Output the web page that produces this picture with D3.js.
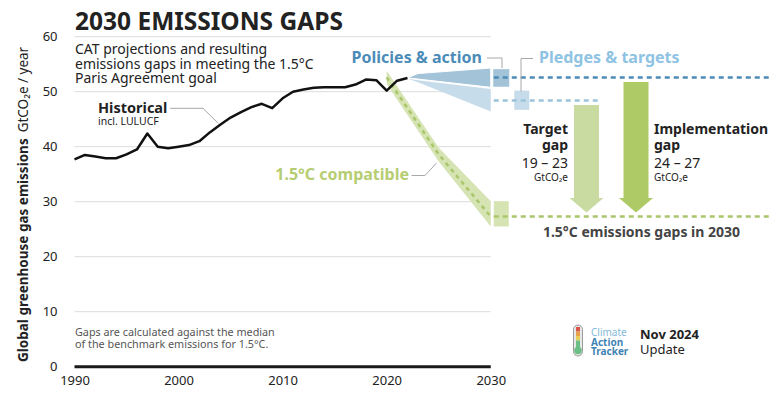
<!DOCTYPE html>
<html>
<head>
<meta charset="utf-8">
<script src="https://cdn.jsdelivr.net/npm/d3@7"></script>
<style>
  body { margin: 0; background: #fff; }
  svg { font-family: "Noto Sans", sans-serif; }
</style>
</head>
<body>
<div class="chart"></div>
<script>
// historical emissions incl. LULUCF, GtCO2e / year
const histYears = [1990, 1991, 1992, 1993, 1994, 1995, 1996, 1997, 1998, 1999,
  2000, 2001, 2002, 2003, 2004, 2005, 2006, 2007, 2008, 2009,
  2010, 2011, 2012, 2013, 2014, 2015, 2016, 2017, 2018, 2019,
  2020, 2021, 2022];
const histValues = [37.7, 38.5, 38.2, 37.9, 37.9, 38.6, 39.5, 42.4, 40.0, 39.7,
  40.0, 40.3, 41.0, 42.6, 44.0, 45.3, 46.3, 47.2, 47.8, 47.0,
  48.8, 50.0, 50.4, 50.7, 50.8, 50.8, 50.8, 51.3, 52.2, 52.1,
  50.2, 52.0, 52.5];

// CAT projections fanning out from the last historical year
const projYears = [2022, 2023, 2030];
const policiesHigh = [52.5, 53.3, 54.3];
const policiesLow = [52.5, 52.3, 50.8];
const pledgesHigh = [52.4, 52.1, 50.5];
const pledgesLow = [52.4, 51.7, 46.4];

// 1.5C compatible pathway
const paYears = [2020, 2025, 2030];
const paHigh = [53.8, 39.8, 30.1];
const paLow = [51.4, 37.3, 25.5];
const paMedian = [52.6, 38.6, 27.3];

// 2030 ranges next to the plot: [low, median, high]
const policies2030 = [50.9, 52.6, 54.1];
const pledges2030 = [46.7, 48.4, 50.2];
const pa2030 = [25.5, 27.3, 30.1];

const yTicks = [0, 10, 20, 30, 40, 50, 60];
const xTicks = [1990, 2000, 2010, 2020, 2030];
const targetGap = "19 – 23";
const implementationGap = "24 – 27";

const width = 782, height = 395;
const plotLeft = 74.5, plotRight = 490.75, plotTop = 36.7, plotBottom = 366.7;

const c = {
  text: "#222",
  grid: "#dcdcdc",
  policy: "#4b8bb8",
  policyBand: "#a3c3d9",
  pledge: "#8ec3e3",
  pledgeBand: "#c7dcea",
  pledgeDash: "#9cc3dc",
  pa: "#b6cd72",
  paBand: "#d6e4b3",
  paDash: "#a9c66a",
  targetArrow: "#c9dba0",
  implArrow: "#aeca67",
  leader: "#a8a8a8"
};

const xScale = d3.scaleLinear().domain([1990, 2030]).range([plotLeft, plotRight]);
const yScale = d3.scaleLinear().domain([0, 60]).range([plotBottom, plotTop]);

const svg = d3.select(".chart").append("svg")
  .attr("width", width).attr("height", height);

// gridlines
svg.append("g").selectAll("line")
  .data(yTicks.filter(d => d > 0))
  .enter().append("line")
  .attr("x1", plotLeft).attr("x2", plotRight)
  .attr("y1", d => yScale(d)).attr("y2", d => yScale(d))
  .style("stroke", c.grid).style("stroke-width", 1);

// y axis labels
const yAxis = d3.axisLeft(yScale).tickValues(yTicks).tickSize(0).tickPadding(17);
const gy = svg.append("g").attr("transform", `translate(${plotLeft},0)`).call(yAxis);
gy.select(".domain").remove();
gy.selectAll("text").style("font-size", "13px").style("fill", c.text)
  .style("font-family", "Noto Sans");

// x axis labels
const xAxis = d3.axisBottom(xScale).tickValues(xTicks).tickFormat(d3.format("d"))
  .tickSize(0).tickPadding(9);
const gx = svg.append("g").attr("transform", `translate(0,${plotBottom})`).call(xAxis);
gx.select(".domain").remove();
gx.selectAll("text").style("font-size", "13px").style("fill", c.text)
  .style("font-family", "Noto Sans");

// zero line
svg.append("line")
  .attr("x1", plotLeft).attr("x2", plotRight)
  .attr("y1", yScale(0)).attr("y2", yScale(0))
  .style("stroke", "#1a1a1a").style("stroke-width", 3);

// title and subtitle
svg.append("text").attr("x", 75).attr("y", 30)
  .style("font-size", "24.5px").style("font-weight", "bold").style("fill", c.text)
  .text("2030 EMISSIONS GAPS");
const sub = svg.append("text").attr("x", 75).attr("y", 54)
  .style("font-size", "14px").style("fill", c.text);
["CAT projections and resulting", "emissions gaps in meeting the 1.5°C", "Paris Agreement goal"]
  .forEach((t, i) => sub.append("tspan").attr("x", 75).attr("y", 54 + i * 14.7).text(t));

// y axis title
const yt = svg.append("text")
  .attr("transform", "translate(28,362) rotate(-90)")
  .style("font-size", "13.5px").style("fill", c.text);
yt.append("tspan").style("font-weight", "bold").text("Global greenhouse gas emissions");
yt.append("tspan").attr("dx", 6).text("GtCO₂e / year");

// 1.5C compatible band
const paData = paYears.map((y, i) => ({ year: y, lo: paLow[i], hi: paHigh[i], mid: paMedian[i] }));
svg.append("path").datum(paData)
  .attr("d", d3.area().x(d => xScale(d.year)).y0(d => yScale(d.lo)).y1(d => yScale(d.hi)))
  .style("fill", c.paBand);
svg.append("path").datum(paData)
  .attr("d", d3.line().x(d => xScale(d.year)).y(d => yScale(d.mid)))
  .style("fill", "none").style("stroke", c.paDash)
  .style("stroke-width", 2.5).style("stroke-dasharray", "4,4");

// projection bands
const projData = projYears.map((y, i) => ({
  year: y, pLo: policiesLow[i], pHi: policiesHigh[i], tLo: pledgesLow[i], tHi: pledgesHigh[i]
}));
svg.append("path").datum(projData)
  .attr("d", d3.area().x(d => xScale(d.year)).y0(d => yScale(d.tLo)).y1(d => yScale(d.tHi)))
  .style("fill", c.pledgeBand);
svg.append("path").datum(projData)
  .attr("d", d3.area().x(d => xScale(d.year)).y0(d => yScale(d.pLo)).y1(d => yScale(d.pHi)))
  .style("fill", c.policyBand).style("stroke", "#fff").style("stroke-width", 1);

// historical line
const histData = histYears.map((y, i) => ({ year: y, value: histValues[i] }));
svg.append("path").datum(histData)
  .attr("d", d3.line().x(d => xScale(d.year)).y(d => yScale(d.value)))
  .style("fill", "none").style("stroke", "#111").style("stroke-width", 2.5)
  .style("stroke-linejoin", "round");

// 2030 range boxes with median dashes
const x30 = xScale(2030);
function rangeBox(r, x0, w, fill) {
  svg.append("rect")
    .attr("x", x0).attr("width", w)
    .attr("y", yScale(r[2])).attr("height", yScale(r[0]) - yScale(r[2]))
    .style("fill", fill);
}
function medianDash(v, x1, x2, stroke) {
  svg.append("line")
    .attr("x1", x1).attr("x2", x2)
    .attr("y1", yScale(v)).attr("y2", yScale(v))
    .style("stroke", stroke).style("stroke-width", 2.5).style("stroke-dasharray", "5,4");
}
rangeBox(policies2030, x30 + 2.5, 16, c.policyBand);
rangeBox(pledges2030, x30 + 23.5, 15, c.pledgeBand);
rangeBox(pa2030, x30 + 3, 15, c.paBand);
medianDash(policies2030[1], x30 + 3, 770, c.policy);
medianDash(pledges2030[1], x30 + 3, 600, c.pledgeDash);
medianDash(pa2030[1], x30 + 3, 770, c.paDash);

// gap arrows
function arrow(cx, fromV, toV, fill) {
  const y0 = yScale(fromV) + 4.5, tip = yScale(toV) - 4;
  const sw = 12.5, hw = 17, hh = 14.5;
  const pts = [[cx - sw, y0], [cx + sw, y0], [cx + sw, tip - hh], [cx + hw, tip - hh],
    [cx, tip], [cx - hw, tip - hh], [cx - sw, tip - hh]];
  svg.append("polygon").attr("points", pts.map(p => p.join(",")).join(" "))
    .style("fill", fill);
}
arrow(586.5, pledges2030[1], pa2030[1], c.targetArrow);
arrow(636, policies2030[1], pa2030[1], c.implArrow);

// leader lines
function leader(pts) {
  svg.append("path").attr("d", d3.line()(pts))
    .style("fill", "none").style("stroke", c.leader).style("stroke-width", 1);
}
leader([[170, 108.3], [203, 108.3], [218.5, 123.5]]);
leader([[487, 58], [502, 58], [502, 68]]);
leader([[533, 58.5], [521, 58.5], [521, 91.5]]);
leader([[411.5, 175.5], [425, 175.5], [436.5, 163]]);

// series labels
function label(x, y, t, size, color, weight, anchor) {
  return svg.append("text").attr("x", x).attr("y", y)
    .style("font-size", size + "px").style("fill", color)
    .style("font-weight", weight || "normal")
    .attr("text-anchor", anchor || "start").text(t);
}
label(98, 113, "Historical", 14.5, c.text, "bold");
label(98, 125, "incl. LULUCF", 10.5, c.text);
label(482, 63, "Policies & action", 16, c.policy, "bold", "end");
label(539, 63, "Pledges & targets", 16, c.pledge, "bold");
label(409, 180, "1.5°C compatible", 16, c.pa, "bold", "end");

// gap labels
label(568, 133.5, "Target", 14, c.text, "bold", "end");
label(568, 150, "gap", 14, c.text, "bold", "end");
label(568, 167.5, targetGap, 14, c.text, "normal", "end");
label(568, 181, "GtCO₂e", 10, c.text, "normal", "end");
label(654, 133.5, "Implementation", 14, c.text, "bold");
label(654, 150, "gap", 14, c.text, "bold");
label(654, 167.5, implementationGap, 14, c.text);
label(654, 181, "GtCO₂e", 10, c.text);
label(641.5, 236.5, "1.5°C emissions gaps in 2030", 14, "#444", "bold", "middle");

// footnote
label(75, 336, "Gaps are calculated against the median", 10.8, "#555");
label(75, 347.5, "of the benchmark emissions for 1.5°C.", 10.8, "#555");

// logo
const logo = svg.append("g");
logo.append("rect").attr("x", 573.5).attr("y", 325).attr("width", 9).attr("height", 31)
  .attr("rx", 4.5).style("fill", "#e8e8e8").style("stroke", "#999").style("stroke-width", 1);
[["#d9574a", 327], ["#e8a04a", 331.5], ["#e8cf5a", 336]].forEach(s =>
  logo.append("rect").attr("x", 576).attr("y", s[1]).attr("width", 4).attr("height", 4.5)
    .style("fill", s[0]));
logo.append("rect").attr("x", 576).attr("y", 340.5).attr("width", 4).attr("height", 10)
  .style("fill", "#6cbf86");
logo.append("circle").attr("cx", 578).attr("cy", 350.5).attr("r", 3.8).style("fill", "#6cbf86");
label(591, 336, "Climate", 10, "#84b9d8");
label(591, 345.5, "Action", 10, "#3f84b4", "bold");
label(591, 355, "Tracker", 10, "#3f84b4", "bold");
label(640, 338.5, "Nov 2024", 13, c.text, "bold");
label(640, 353.5, "Update", 13, c.text);
</script>
</body>
</html>
